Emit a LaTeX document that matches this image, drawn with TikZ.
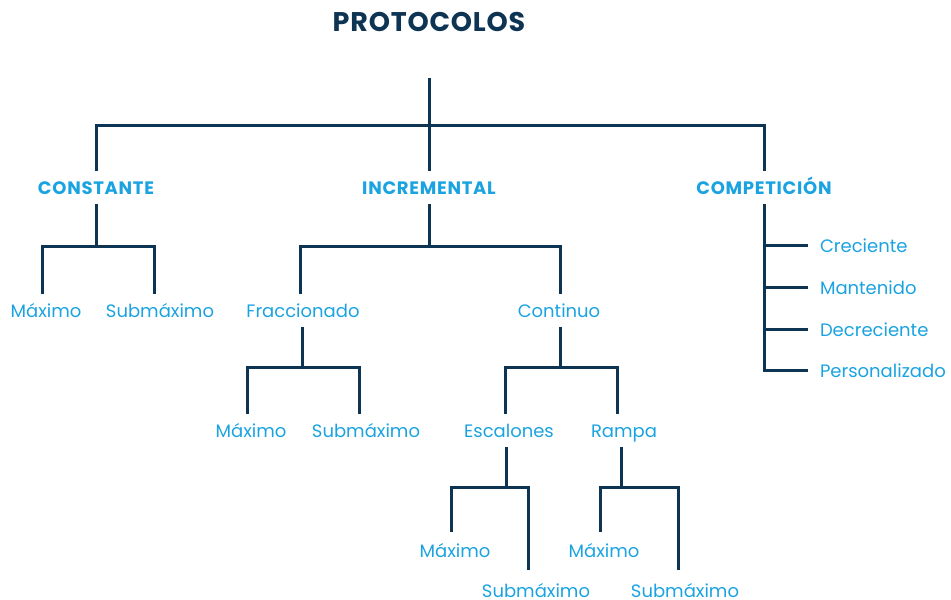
\documentclass[tikz,border=0pt]{standalone}
\usepackage{fontspec}
\setmainfont{Poppins}
\definecolor{navy}{HTML}{0E3453}
\definecolor{sky}{HTML}{1AA3E0}
\begin{document}
\begin{tikzpicture}[x=1pt,y=-1pt,
  conn/.style={draw=navy,line width=3pt},
  lbl/.style={text=sky,font=\fontsize{18}{20}\selectfont,inner sep=0pt,outer ysep=10pt,outer xsep=0pt,text height=13pt,text depth=0pt,anchor=base},
  cat/.style={lbl,font=\bfseries\fontsize{18}{20}\selectfont\addfontfeatures{LetterSpace=4}},
  side/.style={lbl,anchor=base west,outer xsep=12pt},
  ttl/.style={text=navy,font=\bfseries\fontsize{27}{29}\selectfont\addfontfeatures{LetterSpace=3},inner sep=0pt,anchor=base}]
\useasboundingbox (0,0) rectangle (951,600);
% title and first level
\node[ttl] (title) at (429,31) {PROTOCOLOS};
\coordinate (rootTop) at (429,78);
\coordinate (rootJ) at (429,125);
\node[cat] (cons) at (96,194) {CONSTANTE};
\node[cat] (incr) at (429,194) {INCREMENTAL};
\node[cat] (comp) at (764,194) {COMPETICIÓN};
\draw[conn] (rootTop) -- (rootJ);
\draw[conn] (cons.north) |- (rootJ) -| (comp.north);
\draw[conn] (rootJ) -- (incr.north);
% constante
\coordinate (consJ) at (96,246);
\node[lbl] (cmax) at (46,317) {Máximo};
\node[lbl] (csub) at (160,317) {Submáximo};
\draw[conn] (cons.south) -- (consJ);
\draw[conn] ([xshift=-4pt]cmax.north) |- (consJ) -| ([xshift=-6pt]csub.north);
% incremental
\coordinate (incrJ) at (429,246);
\node[lbl] (frac) at (303,317) {Fraccionado};
\node[lbl] (cont) at (559,317) {Continuo};
\draw[conn] (incr.south) -- (incrJ);
\draw[conn] ([xshift=-3pt]frac.north) |- (incrJ) -| ([xshift=1pt]cont.north);
% fraccionado
\coordinate (fracJ) at (302,367);
\node[lbl] (fmax) at (251,437) {Máximo};
\node[lbl] (fsub) at (366,437) {Submáximo};
\draw[conn] (frac.south -| fracJ) -- (fracJ);
\draw[conn] ([xshift=-4pt]fmax.north) |- (fracJ) -| ([xshift=-7pt]fsub.north);
% continuo
\coordinate (contJ) at (560,367);
\node[lbl] (esc) at (509,437) {Escalones};
\node[lbl] (ramp) at (624,437) {Rampa};
\draw[conn] (cont.south -| contJ) -- (contJ);
\draw[conn] ([xshift=-4pt]esc.north) |- (contJ) -| ([xshift=-7pt]ramp.north);
% escalones
\coordinate (escJ) at (506,487);
\node[lbl] (emax) at (455,557) {Máximo};
\node[lbl] (esub) at (536,597) {Submáximo};
\draw[conn] (esc.south -| escJ) -- (escJ);
\draw[conn] ([xshift=-3.5pt,yshift=2pt]emax.north) |- (escJ) -| ([xshift=-7.5pt,yshift=4pt]esub.north);
% rampa
\coordinate (rampJ) at (621,487);
\node[lbl] (rmax) at (604,557) {Máximo};
\node[lbl] (rsub) at (685,597) {Submáximo};
\draw[conn] (ramp.south -| rampJ) -- (rampJ);
\draw[conn] ([xshift=-4pt,yshift=2pt]rmax.north) |- (rampJ) -| ([xshift=-6.5pt,yshift=4pt]rsub.north);
% competicion
\node[side] (cre) at (808,252) {Creciente};
\node[side] (man) at (808,294) {Mantenido};
\node[side] (dec) at (808,336) {Decreciente};
\node[side] (per) at (808,377) {Personalizado};
\draw[conn] (comp.south) |- (per.west);
\draw[conn] (cre.west) -- (cre.west -| comp.south);
\draw[conn] (man.west) -- (man.west -| comp.south);
\draw[conn] (dec.west) -- (dec.west -| comp.south);
\end{tikzpicture}
\end{document}
